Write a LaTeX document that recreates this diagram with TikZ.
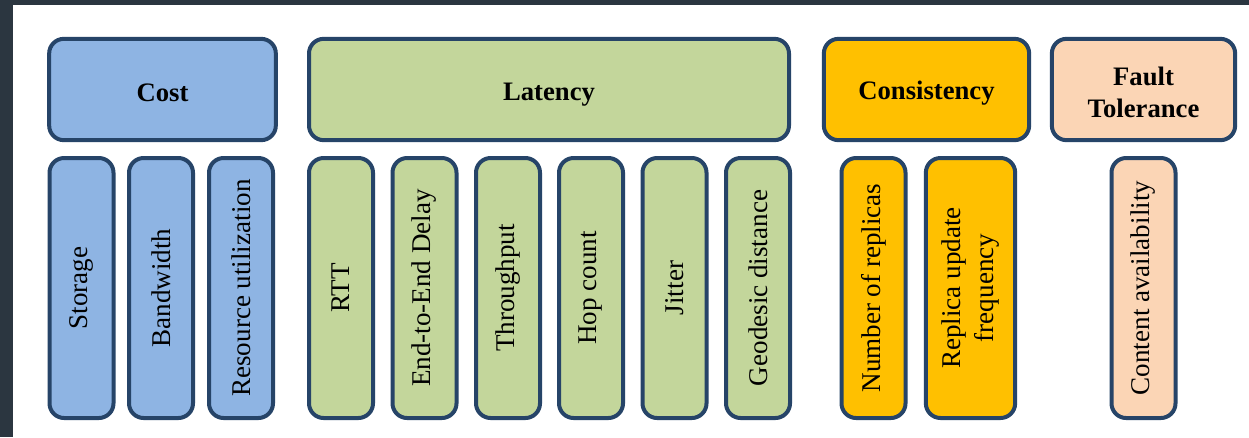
\documentclass[tikz,border=0pt]{standalone}
\usepackage{fontspec}
\setmainfont{Liberation Serif}
\definecolor{frame}{HTML}{2B3640}
\definecolor{edge}{HTML}{264468}
\definecolor{costfill}{HTML}{8EB4E3}
\definecolor{latfill}{HTML}{C3D69B}
\definecolor{consfill}{HTML}{FFC000}
\definecolor{faultfill}{HTML}{FBD5B5}
\tikzset{
  boxbase/.style={draw=edge, line width=3pt, rounded corners=11pt, inner sep=0pt, align=center},
  head/.style={boxbase, minimum height=76pt},
  headtext/.style={inner sep=0pt, align=center, yshift=-2.5pt, font=\fontsize{20}{24}\selectfont\bfseries},
  sub/.style={boxbase, minimum height=48pt, minimum width=195pt, rotate=90, font=\fontsize{20.3}{24.5}\selectfont},
}
\begin{document}
\begin{tikzpicture}[x=0.75pt, y=-0.75pt]
  % page and frame
  \fill[frame] (0,0) rectangle (1249,437);
  \fill[white] (13,5) rectangle (1249,437);
  \useasboundingbox (0,0) rectangle (1249,437);

  % category headers (labels set slightly below the geometric centre)
  \node[head, fill=costfill, minimum width=170pt] (cost) at (162.5,89.5) {};
  \node[headtext] at (cost) {Cost};
  \node[head, fill=latfill, minimum width=360pt] (latency) at (549,89.5) {};
  \node[headtext, yshift=-1pt] at (latency) {Latency};
  \node[head, fill=consfill, minimum width=154pt] (consistency) at (926.5,89.5) {};
  \node[headtext] at (consistency) {Consistency};
  \node[head, fill=faultfill, minimum width=137.5pt] (fault) at (1143.5,89.5) {};
  \node[headtext] at (fault) {Fault\\Tolerance};

  % cost metrics
  \node[sub, fill=costfill] (storage) at (81.5,288) {Storage};
  \node[sub, fill=costfill] (bandwidth) at (161,288) {Bandwidth};
  \node[sub, fill=costfill] (resource) at (241,288) {Resource utilization};

  % latency metrics
  \node[sub, fill=latfill] (rtt) at (341,288) {RTT};
  \node[sub, fill=latfill] (e2e) at (424.5,288) {End-to-End Delay};
  \node[sub, fill=latfill] (throughput) at (508,288) {Throughput};
  \node[sub, fill=latfill] (hop) at (591,288) {Hop count};
  \node[sub, fill=latfill] (jitter) at (674.5,288) {Jitter};
  \node[sub, fill=latfill] (geodesic) at (758,288) {Geodesic distance};

  % consistency metrics
  \node[sub, fill=consfill] (replicas) at (873.5,288) {Number of replicas};
  \node[sub, fill=consfill, minimum height=67pt] (update) at (970.5,288) {Replica update\\frequency};

  % fault tolerance metric
  \node[sub, fill=faultfill] (avail) at (1143.5,288) {Content availability};
\end{tikzpicture}
\end{document}
